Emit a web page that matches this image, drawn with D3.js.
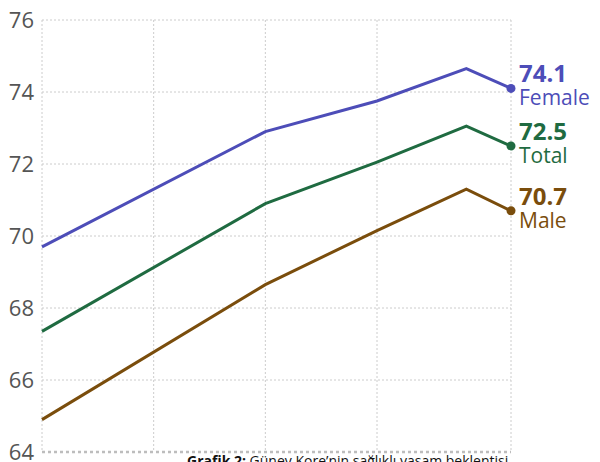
<!DOCTYPE html>
<html><head><meta charset="utf-8">
<script src="https://cdn.jsdelivr.net/npm/d3@7/dist/d3.min.js"></script>
<style>
html,body{margin:0;padding:0;background:#fff;overflow:hidden;}
svg{display:block;font-family:"Open Sans",sans-serif;}
</style></head>
<body><svg id="c" width="600" height="462"></svg>
<script>
const years = [2000, 2010, 2015, 2019, 2021];
const female = [69.7, 72.9, 73.75, 74.65, 74.1];
const total = [67.35, 70.9, 72.05, 73.05, 72.5];
const male = [64.9, 68.65, 70.15, 71.3, 70.7];
const seriesNames = ["Female", "Total", "Male"];
const seriesColors = ["#4d4db8", "#1f6b41", "#7a4d0c"];
const yTicks = [64, 66, 68, 70, 72, 74, 76];
const xGrid = [2000, 2005, 2010, 2015, 2021];
const caption = ["Grafik 2:", " Güney Kore’nin sağlıklı yaşam beklentisi"];

const series = [female, total, male];
const svg = d3.select("#c");
const x = d3.scaleLinear().domain([2000, 2021]).range([42, 511]);
const y = d3.scaleLinear().domain([64, 76]).range([452, 20]);

// grid
const g = svg.append("g");
g.selectAll("line.h").data(yTicks.filter(d => d !== 64)).join("line")
  .attr("x1", x(2000)).attr("x2", x(2021))
  .attr("y1", d => y(d)).attr("y2", d => y(d))
  .attr("stroke", "#cccccc").attr("stroke-width", 1).attr("stroke-dasharray", "2,2");
g.selectAll("line.v").data(xGrid).join("line")
  .attr("x1", d => x(d)).attr("x2", d => x(d))
  .attr("y1", y(76)).attr("y2", y(64))
  .attr("stroke", "#cccccc").attr("stroke-width", 1).attr("stroke-dasharray", "2,2");
g.append("line").attr("x1", x(2000)).attr("x2", x(2021)).attr("y1", y(64)).attr("y2", y(64))
  .attr("stroke", "#bdbdbd").attr("stroke-width", 2.5).attr("stroke-dasharray", "3,3");

// y axis labels
svg.append("g").selectAll("text").data(yTicks).join("text")
  .attr("x", 34).attr("y", d => y(d) + 8)
  .attr("text-anchor", "end").attr("font-size", 22).attr("fill", "#555555")
  .text(d => d);

// lines
const line = d3.line().x((d, i) => x(years[i])).y(d => y(d));
series.forEach((s, k) => {
  svg.append("path").datum(s).attr("d", line)
    .attr("fill", "none").attr("stroke", seriesColors[k]).attr("stroke-width", 3)
    .attr("stroke-linejoin", "miter");
  const last = s[s.length - 1];
  const cx = x(years[years.length - 1]), cy = y(last);
  svg.append("circle").attr("cx", cx).attr("cy", cy).attr("r", 4.5).attr("fill", seriesColors[k]);
  svg.append("text").attr("x", 519).attr("y", cy - 6)
    .attr("font-size", 24).attr("font-weight", "bold").attr("fill", seriesColors[k])
    .text(last.toFixed(1));
  svg.append("text").attr("x", 519).attr("y", cy + 17)
    .attr("font-size", 21).attr("fill", seriesColors[k])
    .text(seriesNames[k]);
});

// caption
const cap = svg.append("text").attr("x", 187).attr("y", 465.5).attr("font-size", 14).attr("fill", "#111");
cap.append("tspan").attr("font-weight", "bold").text(caption[0]);
cap.append("tspan").text(caption[1]);
</script></body></html>
